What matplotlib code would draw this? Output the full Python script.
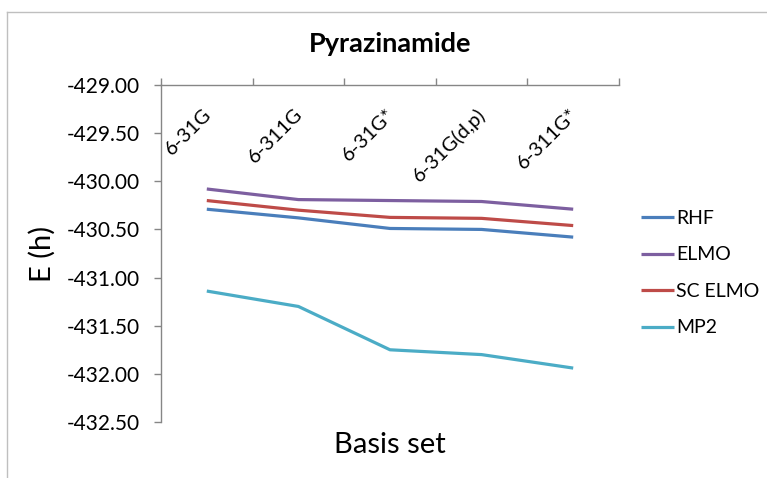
import matplotlib
matplotlib.use("Agg")
import matplotlib.pyplot as plt
from matplotlib.lines import Line2D

plt.rcParams['font.family'] = ['Lato', 'DejaVu Sans']
plt.rcParams['axes.unicode_minus'] = False

# Basis sets and total energies (hartree)
basis_sets = ["6-31G", "6-311G", "6-31G*", "6-31G(d,p)", "6-311G*"]
rhf = [-430.29, -430.38, -430.49, -430.50, -430.58]
elmo = [-430.08, -430.19, -430.20, -430.21, -430.29]
sc_elmo = [-430.20, -430.30, -430.375, -430.385, -430.46]
mp2 = [-431.14, -431.30, -431.75, -431.80, -431.94]

series = [("RHF", rhf, "#4A7EBB"),
          ("ELMO", elmo, "#7D5FA0"),
          ("SC ELMO", sc_elmo, "#BE4B48"),
          ("MP2", mp2, "#4BACC6")]

y_ticks = [-432.5, -432.0, -431.5, -431.0, -430.5, -430.0, -429.5, -429.0]

W, H = 767, 478
fig = plt.figure(figsize=(W / 100, H / 100), dpi=100)
ax = fig.add_axes([161 / W, 1 - 422 / H, (619 - 161) / W, (422 - 85) / H])

x = list(range(len(basis_sets)))
for name, vals, color in series:
    ax.plot(x, vals, color=color, lw=2.3, label=name, solid_capstyle='butt')

ax.set_xlim(-0.5, len(basis_sets) - 0.5)
ax.set_ylim(y_ticks[0], y_ticks[-1])

# category axis sits along the top edge
spine_c = "#868686"
for s in ("right", "bottom"):
    ax.spines[s].set_visible(False)
for s in ("left", "top"):
    ax.spines[s].set_color(spine_c)
    ax.spines[s].set_linewidth(1.0)
ax.xaxis.tick_top()
ax.set_xticks([i - 0.5 for i in range(len(basis_sets) + 1)])
ax.set_xticklabels([])
ax.tick_params(axis='x', direction='out', length=5, color=spine_c, width=1.0)
ax.set_yticks(y_ticks)
ax.set_yticklabels([f"{v:.2f}" for v in y_ticks], fontsize=15)
ax.tick_params(axis='y', direction='out', length=5, color=spine_c, width=1.0, pad=10)

for i, lab in enumerate(basis_sets):
    ax.text(i + 0.08, -429.21, lab, rotation=45, ha='right', va='top',
            fontsize=14.5)

fig.text(42 / W, 1 - 254 / H, "E (h)", fontsize=21, rotation=90,
         ha='center', va='center')
fig.text(390 / W, 1 - 445 / H, "Basis set", fontsize=21, ha='center', va='center')
fig.text(390 / W, 1 - 44 / H, "Pyrazinamide", fontsize=19.5, fontweight='bold',
         ha='center', va='center')

ax.legend(loc='upper left', bbox_to_anchor=(641 / W, 1 - 210 / H),
          bbox_transform=fig.transFigure, frameon=False, fontsize=14,
          handlelength=1.7, handletextpad=0.1, labelspacing=1.0,
          borderpad=0, borderaxespad=0)

# outer chart frame
frame_c = "#BFBFBF"
fig.add_artist(Line2D([7 / W, 7 / W], [0, 1 - 12 / H], transform=fig.transFigure,
                      color=frame_c, lw=1.0))
fig.add_artist(Line2D([7 / W, 1], [1 - 12 / H, 1 - 12 / H], transform=fig.transFigure,
                      color=frame_c, lw=1.0))

fig.savefig("out.png", dpi=100)
